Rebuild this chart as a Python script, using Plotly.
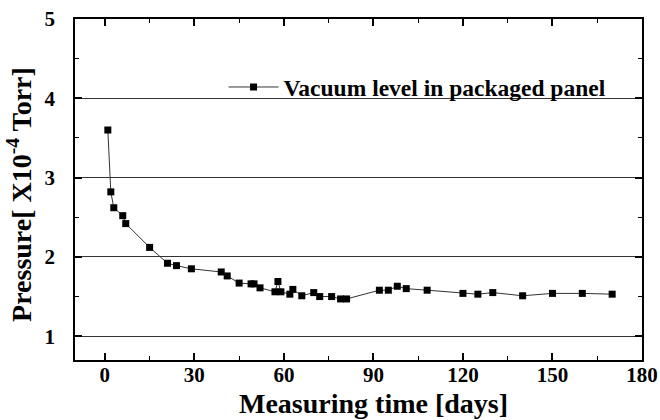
import plotly.graph_objects as go

days = [1, 2, 3, 6, 7, 15, 21, 24, 29, 39, 41, 45, 49, 50, 52, 57, 58, 59,
        62, 63, 66, 70, 72, 76, 79, 81, 92, 95, 98, 101, 108, 120, 125, 130,
        140, 150, 160, 170]
pressure = [3.60, 2.82, 2.62, 2.52, 2.42, 2.12, 1.92, 1.89, 1.85, 1.81, 1.76,
            1.67, 1.66, 1.66, 1.61, 1.56, 1.69, 1.56, 1.53, 1.59, 1.51, 1.55,
            1.50, 1.50, 1.47, 1.47, 1.58, 1.58, 1.63, 1.60, 1.58, 1.54, 1.53,
            1.55, 1.51, 1.54, 1.54, 1.53]

x_ticks = [0, 30, 60, 90, 120, 150, 180]
y_ticks = [1, 2, 3, 4, 5]
series_name = "Vacuum level in packaged panel"
x_title = "Measuring time [days]"
y_title = "Pressure[ X10<sup>-4</sup> Torr]"

FONT = "Liberation Serif"

fig = go.Figure()
fig.add_trace(go.Scatter(
    x=days, y=pressure, mode="lines+markers", name=series_name,
    line=dict(color="#333333", width=1),
    marker=dict(symbol="square", size=7, color="black"),
))

fig.update_layout(
    width=660, height=420,
    margin=dict(l=75, r=18, t=19, b=60),
    paper_bgcolor="white", plot_bgcolor="white",
    font=dict(family=FONT, color="black"),
    showlegend=True,
    legend=dict(
        x=0.262, y=0.80, xanchor="left", yanchor="middle",
        bgcolor="rgba(0,0,0,0)", itemwidth=50,
        font=dict(family=FONT, size=23.5, color="black", weight="bold"),
    ),
    xaxis=dict(
        range=[-10, 180], tickvals=x_ticks, ticktext=[str(v) for v in x_ticks],
        ticks="inside", ticklen=7, tickwidth=1.5, tickcolor="black",
        minor=dict(dtick=15, tick0=0, ticks="inside", ticklen=4, tickwidth=1, tickcolor="black", showgrid=False),
        showline=True, linecolor="black", linewidth=1.5, mirror="ticks",
        showgrid=False, zeroline=False, ticklabelstandoff=-5, automargin=False,
        tickfont=dict(family=FONT, size=21, color="black", weight="bold"),
    ),
    yaxis=dict(
        range=[0.7, 5], tickvals=y_ticks, ticktext=[str(v) for v in y_ticks],
        ticks="inside", ticklen=7, tickwidth=1.5, tickcolor="black",
        minor=dict(dtick=0.5, tick0=0, ticks="inside", ticklen=4, tickwidth=1, tickcolor="black", showgrid=False),
        showline=True, linecolor="black", linewidth=1.5, mirror="ticks",
        showgrid=True, gridcolor="#333333", gridwidth=1, zeroline=False,
        ticklabelstandoff=14, automargin=False,
        tickfont=dict(family=FONT, size=21, color="black", weight="bold"),
    ),
    annotations=[
        dict(text=x_title, xref="paper", yref="paper", x=0.527, y=-0.128,
             xanchor="center", yanchor="middle", showarrow=False,
             font=dict(family=FONT, size=28, color="black", weight="bold")),
        dict(text=y_title, xref="paper", yref="paper", x=-0.097, y=0.484,
             xanchor="center", yanchor="middle", showarrow=False, textangle=-90,
             font=dict(family=FONT, size=28, color="black", weight="bold")),
    ],
)

fig.write_html("out.html")
